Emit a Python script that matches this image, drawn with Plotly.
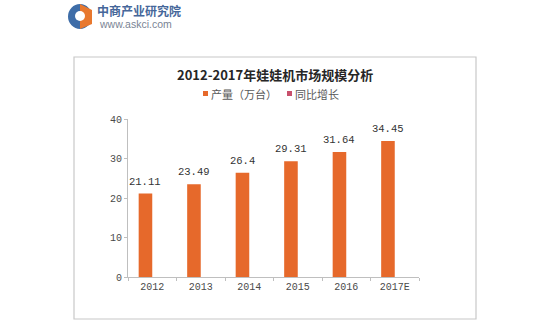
import plotly.graph_objects as go

categories = ["2012", "2013", "2014", "2015", "2016", "2017E"]
production = [21.11, 23.49, 26.4, 29.31, 31.64, 34.45]
growth = [None, None, None, None, None, None]
y_ticks = [0, 10, 20, 30, 40]

W, H = 550, 324
L, R, T, B = 128, 419, 119, 277  # plot area in pixels
BARGAP = 0.44


def px(x):
    return (x - L) / (R - L)


def py(y):
    return (B - y) / (B - T)


ORANGE = "#E6692B"
PINK = "#C8506C"
AXIS = "#BFBFBF"
TXT = "#4A4A4A"

fig = go.Figure()
fig.add_trace(go.Bar(
    x=categories, y=production, name="产量（万台）",
    marker=dict(color=ORANGE, line=dict(width=0)),
    showlegend=False,
))
fig.add_trace(go.Bar(
    x=categories, y=growth, name="同比增长",
    marker=dict(color=PINK), showlegend=False,
))

# first series sits left of the category centre by half a bar slot (in category units)
bar_shift = -(1 - BARGAP) / 4

shapes = []
shapes.append(dict(type="rect", xref="paper", yref="paper",
                   x0=px(74), x1=px(476), y0=py(319), y1=py(57),
                   line=dict(color="#C8C8C8", width=1.2), layer="below"))
shapes.append(dict(type="rect", xref="paper", yref="paper",
                   x0=px(203), x1=px(208), y0=py(96), y1=py(91),
                   fillcolor=ORANGE, line=dict(width=0)))
shapes.append(dict(type="rect", xref="paper", yref="paper",
                   x0=px(287), x1=px(292), y0=py(96), y1=py(91),
                   fillcolor=PINK, line=dict(width=0)))
# logo
shapes.append(dict(type="circle", xref="paper", yref="paper",
                   x0=px(68), x1=px(92), y0=py(29), y1=py(4),
                   fillcolor="#3E6DA8", line=dict(width=0)))
shapes.append(dict(type="path", xref="paper", yref="paper",
                   path=f"M {px(80)} {py(4)} L {px(92)} {py(10)} L {px(92)} {py(24)} L {px(80)} {py(29)} Z",
                   fillcolor="#E8782E", line=dict(width=0)))
shapes.append(dict(type="circle", xref="paper", yref="paper",
                   x0=px(75), x1=px(85), y0=py(21), y1=py(11),
                   fillcolor="white", line=dict(width=0)))

annotations = [
    dict(text="<b>2012-2017年娃娃机市场规模分析</b>", x=px(275), y=py(74),
         xref="paper", yref="paper", showarrow=False, xanchor="center", yanchor="middle",
         font=dict(family="Noto Sans CJK SC", size=13, color="#262626")),
    dict(text="产量（万台）", x=px(209), y=py(93.5), xref="paper", yref="paper",
         showarrow=False, xanchor="left", yanchor="middle",
         font=dict(family="Noto Sans CJK SC", size=11, color="#595959")),
    dict(text="同比增长", x=px(293), y=py(93.5), xref="paper", yref="paper",
         showarrow=False, xanchor="left", yanchor="middle",
         font=dict(family="Noto Sans CJK SC", size=11, color="#595959")),
    dict(text="<b>中商产业研究院</b>", x=px(95), y=py(11), xref="paper", yref="paper",
         showarrow=False, xanchor="left", yanchor="middle",
         font=dict(family="Noto Sans CJK SC", size=12, color="#46679A")),
    dict(text="www.askci.com", x=px(97), y=py(24), xref="paper", yref="paper",
         showarrow=False, xanchor="left", yanchor="middle",
         font=dict(family="Liberation Sans", size=10.5, color="#7A8494")),
]
for i, v in enumerate(production):
    annotations.append(dict(
        text=str(v), x=i + bar_shift, y=v, xref="x", yref="y", showarrow=False,
        xanchor="center", yanchor="bottom", yshift=4,
        font=dict(family="Liberation Mono", size=10.5, color="#333333")))

fig.update_layout(
    width=W, height=H,
    margin=dict(l=L, r=W - R, t=T, b=H - B, pad=0),
    paper_bgcolor="white", plot_bgcolor="white",
    barmode="group", bargap=BARGAP, bargroupgap=0,
    showlegend=False,
    shapes=shapes, annotations=annotations,
    xaxis=dict(
        type="category", categoryorder="array", categoryarray=categories,
        range=[-0.5, len(categories) - 0.5],
        showline=True, linecolor=AXIS, linewidth=1,
        ticks="outside", tickson="boundaries", ticklen=3, tickcolor=AXIS,
        showgrid=False, zeroline=False,
        tickfont=dict(family="Liberation Mono", size=10, color=TXT),
        fixedrange=True,
    ),
    yaxis=dict(
        range=[0, 40], tickvals=y_ticks, showline=True, linecolor=AXIS, linewidth=1,
        ticks="outside", ticklen=3, tickcolor=AXIS, showgrid=False, zeroline=False,
        tickfont=dict(family="Liberation Mono", size=10, color=TXT),
        fixedrange=True,
    ),
)

fig.write_html("out.html")
